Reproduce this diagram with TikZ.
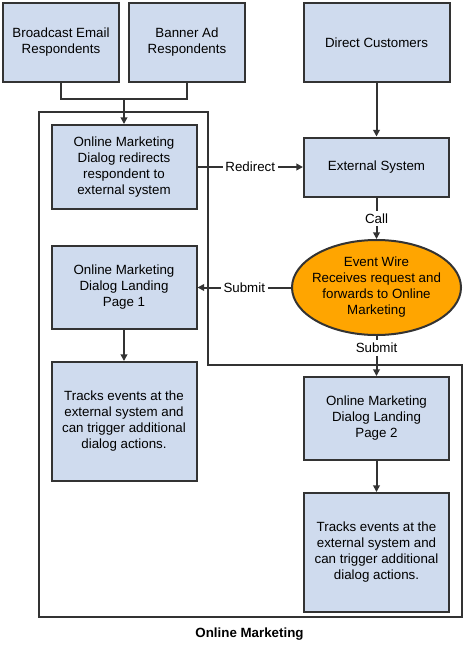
\documentclass[tikz,border=0pt]{standalone}
\usepackage{fontspec}
\setmainfont{Liberation Sans}
\usetikzlibrary{arrows.meta,positioning,shapes.geometric}
\definecolor{boxblue}{RGB}{207,219,238}
\definecolor{wireorange}{RGB}{255,165,0}
\definecolor{edgegray}{RGB}{51,51,51}

\begin{document}
\begin{tikzpicture}[
    x=0.75pt, y=-0.75pt,
    node distance=23.25pt,
    font=\fontsize{10}{12}\selectfont,
    box/.style={draw=edgegray, line width=1.5pt, fill=boxblue, rectangle, align=center,
                minimum width=108.75pt, inner sep=2pt},
    srcbox/.style={box, minimum width=87pt, minimum height=59.25pt},
    pagebox/.style={box, minimum height=62.25pt},
    trackbox/.style={box, minimum height=89.25pt},
    wire/.style={draw=edgegray, line width=1.5pt, fill=wireorange, ellipse, align=center,
                 minimum width=126.75pt, minimum height=71.25pt,
                 inner xsep=-6pt, inner ysep=0pt},
    line/.style={draw=edgegray, line width=1.5pt},
    arrow/.style={line, -{Triangle[length=5pt,width=5pt]}},
    lbl/.style={fill=white, inner sep=2pt}
]
\useasboundingbox (0,0) rectangle (464,657);

% region boundary
\draw[line] (39,112) -- (208,112) -- (208,365) -- (462,365) -- (462,617) -- (39,617) -- cycle;

\node[srcbox] (bcast)  at (61,42.5)  {Broadcast Email\\Respondents};
\node[srcbox] (banner) at (187,42.5) {Banner Ad\\Respondents};
\node[srcbox, minimum width=109.5pt] (direct) at (376.5,42.5) {Direct Customers};

\node[box, minimum height=63pt] (redir) at (124,167)
    {Online Marketing\\Dialog redirects\\respondent to\\external system};
\node[box, minimum height=44.25pt] (ext) at (376.5,167) {External System};

\node[wire] (ewire) at (376.5,287.5)
    {Event Wire\\Receives request and\\forwards to Online\\Marketing};

\node[pagebox] (page1) at (124,287.5) {Online Marketing\\Dialog Landing\\Page 1};
\node[trackbox, below=of page1] (track1)
    {Tracks events at the\\external system and\\can trigger additional\\dialog actions.};

\node[pagebox] (page2) at (376.5,418.5) {Online Marketing\\Dialog Landing\\Page 2};
\node[trackbox, below=of page2] (track2)
    {Tracks events at the\\external system and\\can trigger additional\\dialog actions.};

\node[font=\fontsize{10}{12}\selectfont\bfseries] (title) at (249.5,634) {Online Marketing};

\coordinate (join) at (124,99);
\draw[line]  (bcast.south) |- (join) -| (banner.south);
\draw[arrow] (join) -- (redir.north);
\draw[arrow] (direct) -- (ext);
\draw[arrow] (redir) -- node[lbl] {Redirect} (ext);
\draw[arrow] (ext) -- node[lbl] {Call} (ewire);
\draw[arrow] (ewire) -- node[lbl] {Submit} (page1);
\draw[arrow] (ewire) -- node[lbl, pos=0.3] {Submit} (page2);
\draw[arrow] (page1) -- (track1);
\draw[arrow] (page2) -- (track2);
\end{tikzpicture}
\end{document}
